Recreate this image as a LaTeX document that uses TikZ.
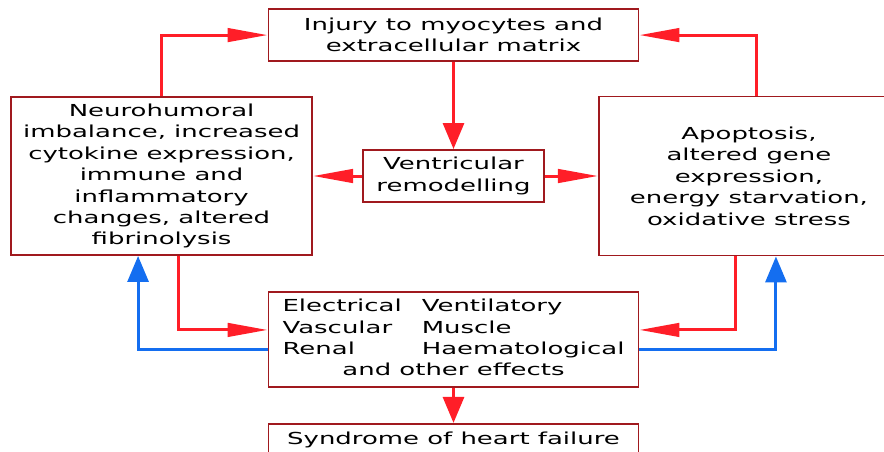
\documentclass[tikz,border=0pt]{standalone}
\usepackage{fontspec}
\setmainfont{DejaVu Sans}[FakeStretch=1.57]
\usepackage{tikz}
\usetikzlibrary{arrows.meta, positioning, calc}
\definecolor{boxred}{RGB}{160,25,30}
\definecolor{linered}{RGB}{255,30,40}
\definecolor{lineblue}{RGB}{20,110,240}

\begin{document}
\begin{tikzpicture}[
  box/.style={rectangle, draw=boxred, line width=1.1pt, fill=white,
              inner sep=0pt, align=center,
              font=\fontsize{9.4}{12.2}\selectfont},
  harr/.style={-{Triangle[length=0.8cm, width=0.27cm]}, line width=1.7pt},
  varr/.style={-{Triangle[length=0.52cm, width=0.42cm]}, line width=1.7pt},
  fwd/.style={draw=linered},
  back/.style={draw=lineblue},
]
\useasboundingbox (0,0) rectangle (17.68,9.02);

\node[box, minimum width=3.62cm, minimum height=1.04cm] (vent) at (9.07,5.50)
  {Ventricular\\remodelling};
\node[box, minimum width=7.40cm, minimum height=1.04cm, above=1.74cm of vent] (injury)
  {Injury to myocytes and\\extracellular matrix};
\node[box, minimum width=6.02cm, minimum height=3.16cm, left=0.98cm of vent] (neuro)
  {Neurohumoral\\imbalance, increased\\cytokine expression,\\immune and\\inflammatory\\changes, altered\\fibrinolysis};
\node[box, minimum width=6.00cm, minimum height=3.18cm, right=1.06cm of vent] (apop)
  {Apoptosis,\\altered gene\\expression,\\energy starvation,\\oxidative stress};
\node[box, minimum width=7.40cm, minimum height=1.90cm, below=1.76cm of vent] (effects)
  {\begin{tabular}{@{}l@{\hspace{0.4cm}}l@{}}
     Electrical & Ventilatory\\
     Vascular   & Muscle\\
     Renal      & Haematological\\
     \multicolumn{2}{c}{and other effects}
   \end{tabular}};
\node[box, minimum width=7.40cm, minimum height=0.64cm, below=0.7cm of effects] (hf)
  {Syndrome of heart failure};

% top loop
\draw[harr, fwd] (neuro.north) |- (injury.west);
\draw[harr, fwd] ([xshift=0.16cm]apop.north) |- (injury.east);
\draw[varr, fwd] (injury.south -| vent.north) -- (vent.north);
\draw[harr, fwd] (vent) -- (neuro);
\draw[harr, fwd] (vent) -- (apop);

% bottom loop
\draw[harr, fwd] ([xshift=0.33cm]neuro.south) |- ([yshift=0.19cm]effects.west);
\draw[harr, fwd] ([xshift=-0.26cm]apop.south) |- ([yshift=0.19cm]effects.east);
\draw[varr, back] ([yshift=-0.21cm]effects.west) -| ([xshift=-0.47cm]neuro.south);
\draw[varr, back] ([yshift=-0.21cm]effects.east) -| ([xshift=0.54cm]apop.south);
\draw[varr, fwd] (effects) -- (hf);

\end{tikzpicture}
\end{document}
